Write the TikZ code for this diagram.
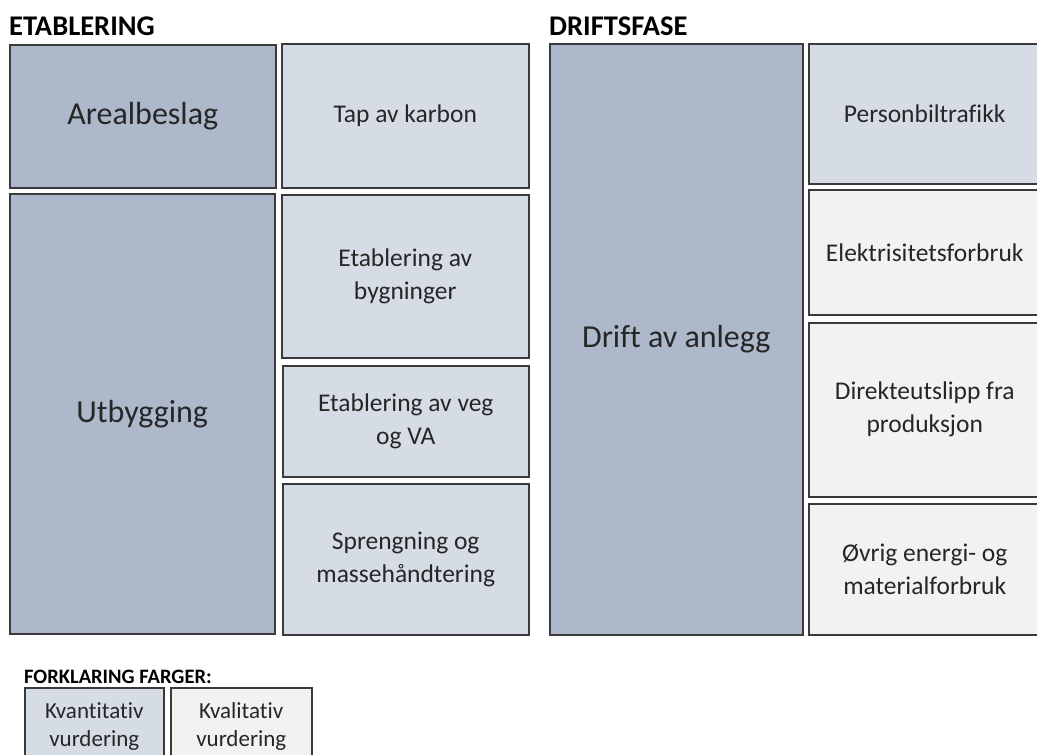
\documentclass[tikz,border=0pt]{standalone}
\usepackage{fontspec}
\setmainfont{Carlito}[Ligatures=NoCommon]
\definecolor{dark}{HTML}{ADB9CA}
\definecolor{lblue}{HTML}{D6DCE5}
\definecolor{lgrey}{HTML}{F2F2F2}
\definecolor{edge}{HTML}{3A3A3A}
\begin{document}
\begin{tikzpicture}[x=1pt,y=-1pt,
  box/.style={draw=edge,line width=1.5pt,anchor=north west,inner sep=0pt,align=center,
    text=black!85},
  bigtxt/.style={font=\fontsize{32}{38}\selectfont},
  smtxt/.style={font=\fontsize{25.5}{33}\selectfont},
  legtxt/.style={font=\fontsize{23}{28}\selectfont},
  title/.style={anchor=base west,inner sep=0pt,font=\bfseries\fontsize{28.5}{32}\selectfont}]
\useasboundingbox (0,0) rectangle (1037,755);
\fill[white] (0,0) rectangle (1037,755);
% titles
\node[title] (t1) at (9,35) {ETABLERING};
\node[title] (t2) at (549,35) {DRIFTSFASE};
\node[anchor=base west,inner sep=0pt,font=\bfseries\fontsize{20.5}{24}\selectfont] (t3) at (24,683) {FORKLARING FARGER:};
% Etablering
\node[box,fill=dark,bigtxt,minimum width=266,minimum height=143] (areal) at (9,44) {Arealbeslag};
\node[box,fill=lblue,smtxt,minimum width=247,minimum height=144] (karbon) at (281,43) {Tap av karbon};
\node[box,fill=dark,bigtxt,minimum width=265,minimum height=440] (utb) at (9,193) {Utbygging};
\node[box,fill=lblue,smtxt,minimum width=247,minimum height=163] (bygn) at (281,194) {Etablering av\\bygninger};
\node[box,fill=lblue,smtxt,minimum width=246,minimum height=111] (veg) at (282,365) {Etablering av veg\\og VA};
\node[box,fill=lblue,smtxt,minimum width=246,minimum height=151] (spreng) at (282,483) {Sprengning og\\massehåndtering};
% Driftsfase
\node[box,fill=dark,bigtxt,minimum width=253,minimum height=591] (drift) at (549,43) {Drift av anlegg};
\node[box,fill=lblue,smtxt,minimum width=232,minimum height=140] (pers) at (808,43) {Personbiltrafikk};
\node[box,fill=lgrey,smtxt,minimum width=232,minimum height=125] (el) at (808,189) {Elektrisitetsforbruk};
\node[box,fill=lgrey,smtxt,minimum width=232,minimum height=174] (dir) at (808,322) {Direkteutslipp fra\\produksjon};
\node[box,fill=lgrey,smtxt,minimum width=232,minimum height=131] (ovrig) at (808,503) {Øvrig energi- og\\materialforbruk};
% legend
\node[box,fill=lblue,legtxt,minimum width=139,minimum height=78] (kvant) at (24,687) {Kvantitativ\\vurdering};
\node[box,fill=lgrey,legtxt,minimum width=141,minimum height=78] (kval) at (170,687) {Kvalitativ\\vurdering};
\end{tikzpicture}
\end{document}
